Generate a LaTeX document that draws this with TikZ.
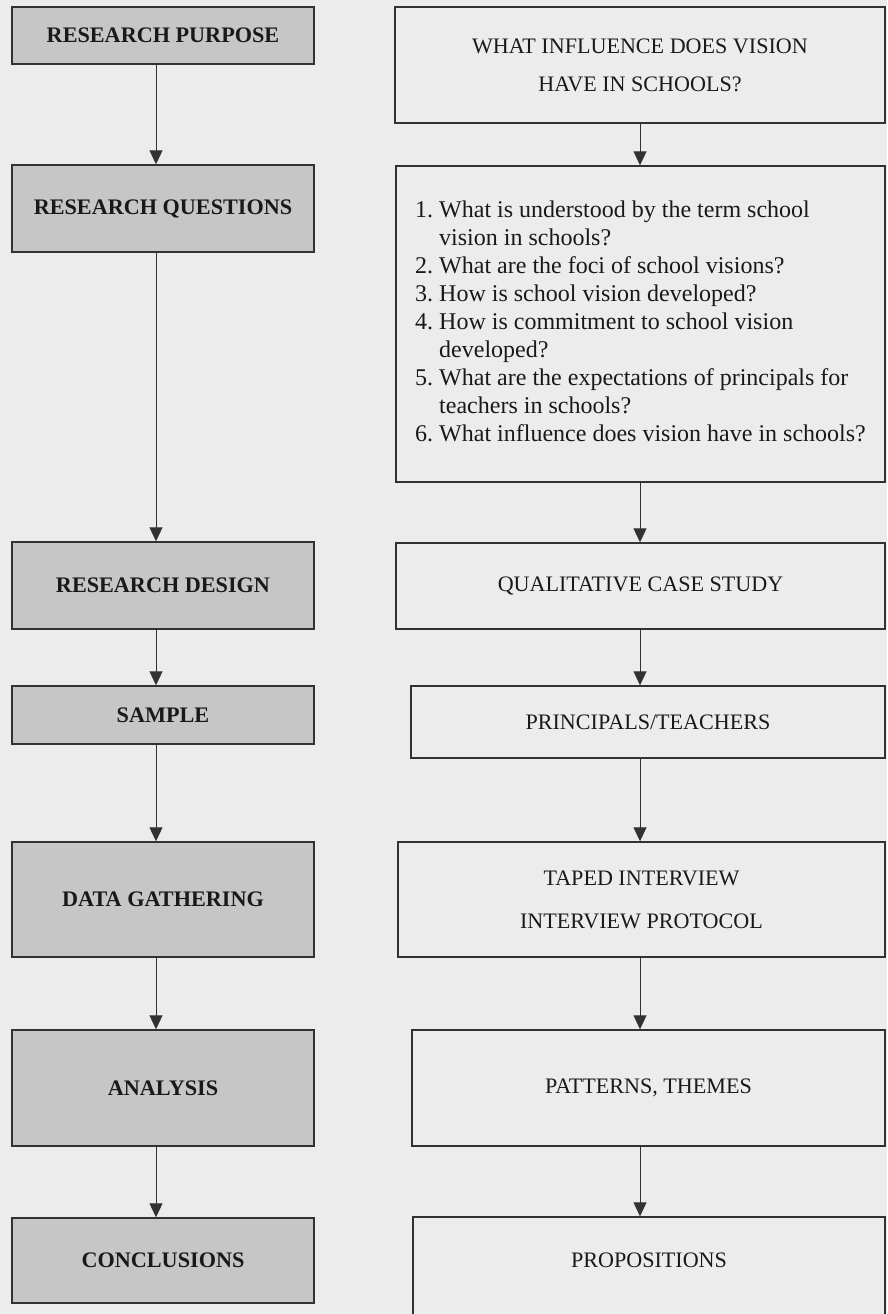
\documentclass[tikz,border=0pt]{standalone}
\usepackage{fontspec}
\setmainfont{Liberation Serif}
\usetikzlibrary{arrows.meta}
\definecolor{paperGray}{RGB}{236, 236, 236}
\definecolor{boxGray}{RGB}{198, 198, 198}
\definecolor{lineGray}{RGB}{50, 50, 50}

\begin{document}
\begin{tikzpicture}[x=1pt, y=-1pt,
    stage/.style={draw=lineGray, line width=1.4pt, fill=boxGray, minimum width=302pt, inner sep=0pt, text=black!90, font=\fontsize{22.2}{26}\selectfont\bfseries},
    answer/.style={draw=lineGray, line width=1.4pt, inner sep=0pt, align=center, text=black!90, font=\fontsize{22.1}{38}\selectfont},
    flow/.style={draw=lineGray, line width=0.9pt, -{Triangle[width=13pt, length=14pt]}}]
        \useasboundingbox (0,0) rectangle (887,1314);
        \clip (0,0) rectangle (887,1314);
        \fill[paperGray] (0,0) rectangle (887,1314);
        \coordinate (lx) at (156,0);
        \coordinate (rx) at (640,0);
        % left column
        \node[stage, minimum height=57pt] (rp) at (163,35.5) {RESEARCH PURPOSE};
        \node[stage, minimum height=87pt] (rq) at (163,208.5) {RESEARCH QUESTIONS};
        \node[stage, minimum height=87pt] (rd) at (163,585.5) {RESEARCH DESIGN};
        \node[stage, minimum height=58pt] (sm) at (163,715) {SAMPLE};
        \node[stage, minimum height=115pt] (dg) at (163,899.5) {DATA GATHERING};
        \node[stage, minimum height=116pt] (an) at (163,1088) {ANALYSIS};
        \node[stage, minimum height=85pt] (cn) at (163,1260.5) {CONCLUSIONS};
        % right column
        \node[answer, minimum width=490pt, minimum height=116pt] (q1) at (640,65) {WHAT INFLUENCE DOES VISION\\HAVE IN SCHOOLS?};
        \node[answer, minimum width=489pt, minimum height=316pt, font=\fontsize{24}{28}\selectfont] (q2) at (640.5,324) {%
          \begin{tabular}{@{}l@{\ }l@{}}
          1. & What is understood by the term school\\
             & vision in schools?\\
          2. & What are the foci of school visions?\\
          3. & How is school vision developed?\\
          4. & How is commitment to school vision\\
             & developed?\\
          5. & What are the expectations of principals for\\
             & teachers in schools?\\
          6. & What influence does vision have in schools?
          \end{tabular}};
        \node[answer, minimum width=489pt, minimum height=86pt] (q3) at (640.5,586) {QUALITATIVE CASE STUDY};
        \node[answer, minimum width=474pt, minimum height=72pt] (q4) at (648,722) {PRINCIPALS/TEACHERS};
        \node[answer, minimum width=487pt, minimum height=115pt, font=\fontsize{22.1}{43}\selectfont] (q5) at (641.5,899.5) {TAPED INTERVIEW\\INTERVIEW PROTOCOL};
        \node[answer, minimum width=473pt, minimum height=116pt] (q6) at (648.5,1088) {PATTERNS, THEMES};
        \node[answer, minimum width=472pt, minimum height=113pt, text height=14pt, text depth=26pt] (q7) at (649,1273.5) {PROPOSITIONS};
        % arrows
        \draw[flow] (rp.south -| lx) -- (rq.north -| lx);
        \draw[flow] (rq.south -| lx) -- (rd.north -| lx);
        \draw[flow] (rd.south -| lx) -- (sm.north -| lx);
        \draw[flow] (sm.south -| lx) -- (dg.north -| lx);
        \draw[flow] (dg.south -| lx) -- (an.north -| lx);
        \draw[flow] (an.south -| lx) -- (cn.north -| lx);
        \draw[flow] (q1.south -| rx) -- (q2.north -| rx);
        \draw[flow] (q2.south -| rx) -- (q3.north -| rx);
        \draw[flow] (q3.south -| rx) -- (q4.north -| rx);
        \draw[flow] (q4.south -| rx) -- (q5.north -| rx);
        \draw[flow] (q5.south -| rx) -- (q6.north -| rx);
        \draw[flow] (q6.south -| rx) -- (q7.north -| rx);
      \end{tikzpicture}
\end{document}
